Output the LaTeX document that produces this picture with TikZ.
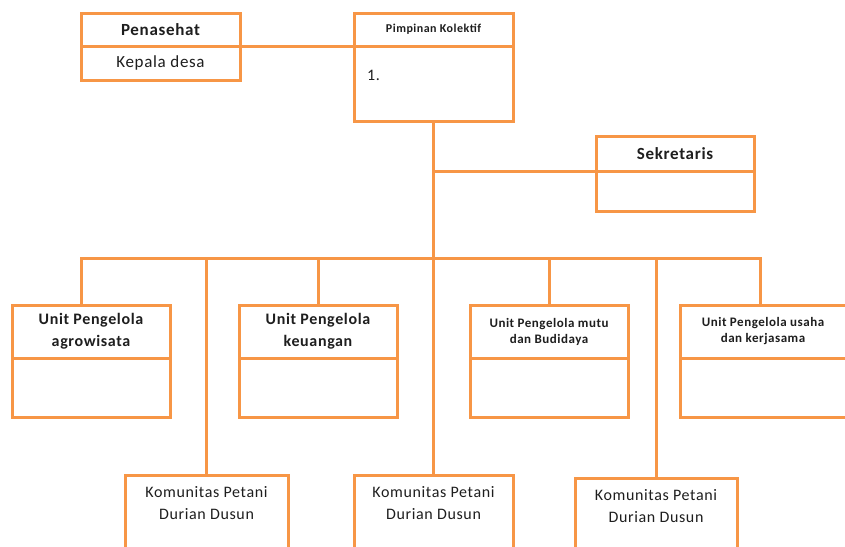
\documentclass[tikz,border=0pt]{standalone}
\usepackage{fontspec}
\setmainfont{Carlito}[LetterSpace=4]
\usetikzlibrary{positioning,calc}
\definecolor{orgline}{HTML}{F79646}
\definecolor{orgtext}{HTML}{1E1E1E}

\begin{document}
\begin{tikzpicture}[x=1pt,y=-1pt,
    boxpart/.style={draw=orgline,line width=3pt,fill=white,rectangle,inner sep=0pt,outer sep=0pt,
      minimum width=158pt,align=center,text=orgtext},
    link/.style={draw=orgline,line width=3pt},
    nametxt/.style={inner sep=0pt,align=center,text=orgtext}]
    \useasboundingbox[fill=white] (0,0) rectangle (845,546);
    % top row
    \node[boxpart,minimum width=159pt,minimum height=33pt,anchor=north west,
      font=\fontsize{17}{20}\selectfont\bfseries] (penh) at (81,13) {Penasehat};
    \node[boxpart,minimum width=159pt,minimum height=34pt,anchor=north,
      font=\fontsize{17}{20}\selectfont] (penb) at (penh.south) {Kepala desa};
    \node[boxpart,minimum width=159pt,minimum height=33pt,anchor=north west,
      font=\fontsize{12}{14}\selectfont\bfseries] (pimh) at (354,13) {Pimpinan Kolektif};
    \node[boxpart,minimum width=159pt,minimum height=75pt,anchor=north] (pimb) at (pimh.south) {};
    \node[nametxt,anchor=west,font=\fontsize{16}{18}\selectfont] (pimn) at ([xshift=13pt,yshift=-29pt]pimb.north west) {1.};
    \node[boxpart,minimum height=35pt,anchor=north west,
      font=\fontsize{17}{20}\selectfont\bfseries] (sekh) at (596,136) {Sekretaris};
    \node[boxpart,minimum height=40pt,anchor=north] (sekb) at (sekh.south) {};
    % units
    \node[boxpart,minimum height=53pt,anchor=north west,
      font=\fontsize{16}{22}\selectfont\bfseries] (agroh) at (12,305) {Unit Pengelola\\agrowisata};
    \node[boxpart,minimum height=59pt,anchor=north] (agrob) at (agroh.south) {};
    \node[boxpart,minimum height=53pt,anchor=north west,
      font=\fontsize{16}{22}\selectfont\bfseries] (keuh) at (239,305) {Unit Pengelola\\keuangan};
    \node[boxpart,minimum height=59pt,anchor=north] (keub) at (keuh.south) {};
    \node[boxpart,minimum height=53pt,anchor=north west,
      font=\fontsize{13}{16}\selectfont\bfseries] (mutuh) at (470,305) {Unit Pengelola mutu\\dan Budidaya};
    \node[boxpart,minimum height=59pt,anchor=north] (mutub) at (mutuh.south) {};
    \node[boxpart,minimum width=166pt,minimum height=53pt,anchor=north west,
      font=\fontsize{13}{16}\selectfont\bfseries] (usahah) at (680,305) {Unit Pengelola usaha\\dan kerjasama};
    \node[boxpart,minimum width=166pt,minimum height=59pt,anchor=north] (usahab) at (usahah.south) {};
    % komunitas
    \node[boxpart,minimum width=163pt,minimum height=120pt,anchor=north west] (kom1) at (125,475) {};
    \node[boxpart,minimum width=159pt,minimum height=120pt,anchor=north west] (kom2) at (354,475) {};
    \node[boxpart,minimum width=162pt,minimum height=120pt,anchor=north west] (kom3) at (575,478) {};
    \foreach \k in {kom1,kom2,kom3} {
      \node[nametxt,anchor=north,font=\fontsize{16}{22}\selectfont] (\k t) at ([yshift=-11pt]\k.north) {Komunitas Petani\\Durian Dusun};
    }
    % lines
    \coordinate (bus) at (434,258);
    \draw[link] (penh.south east) -- (pimh.south west);
    \draw[link] (pimb.south) -- (kom2.north);
    \draw[link] (sekh.south west) -- (sekh.south west -| pimb.south);
    \draw[link] ([xshift=-10pt]agroh.north) |- (bus) -| ([xshift=-3pt]usahah.north);
    \foreach \n in {keuh,mutuh,kom1,kom3} { \draw[link] (\n.north) -- (\n.north |- bus); }
  \end{tikzpicture}
\end{document}
